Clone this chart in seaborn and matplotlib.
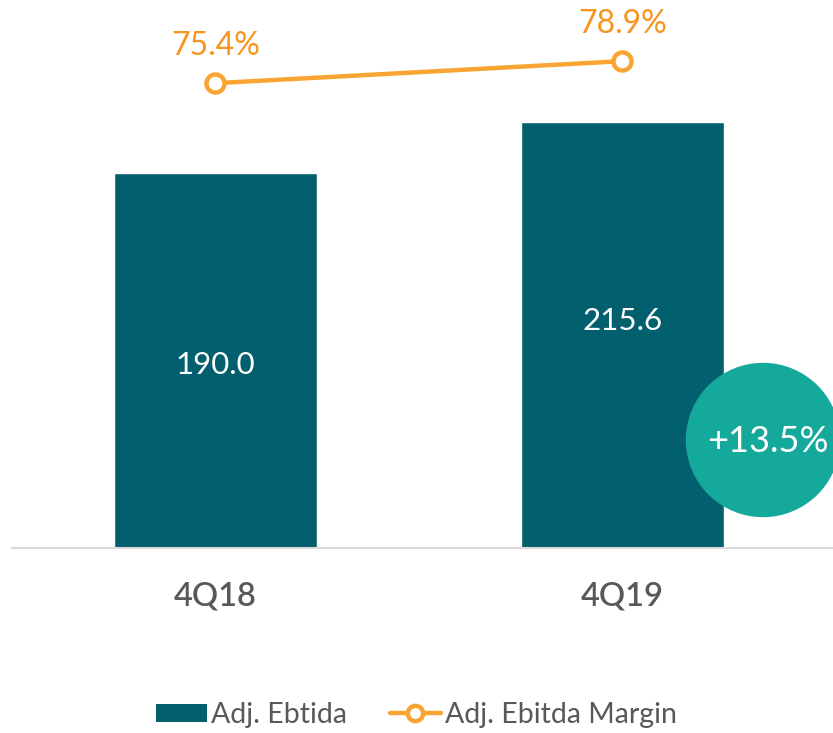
import matplotlib
matplotlib.use("Agg")
import matplotlib.pyplot as plt
from matplotlib.patches import Circle, Patch
from matplotlib.lines import Line2D
import pandas as pd
import seaborn as sns

# ─── Data ─────────────────────────────────────────────────────────────────────
quarters = ["4Q18", "4Q19"]
adj_ebitda = [190.0, 215.6]
adj_margin = [75.4, 78.9]
growth_label = "+13.5%"

BAR_COLOR = "#02606E"
LINE_COLOR = "#F9A533"
TEXT_ORANGE = "#F7941D"
BUBBLE_COLOR = "#14A99A"
GRAY = "#595959"

sns.set_theme(style="white")
plt.rcParams["font.family"] = ["Lato", "DejaVu Sans"]

df = pd.DataFrame({"quarter": quarters, "ebitda": adj_ebitda, "margin": adj_margin})

fig = plt.figure(figsize=(8.33, 7.33), dpi=100)
ax = fig.add_axes([12 / 833, 185 / 733, 1 - 12 / 833, 548 / 733])

sns.barplot(data=df, x="quarter", y="ebitda", color=BAR_COLOR, width=0.5,
            saturation=1, ax=ax)
# value labels sit near the middle of each bar (second one a bit higher)
for i, (v, dy) in enumerate(zip(adj_ebitda, (-3, 10))):
    ax.annotate(f"{v:.1f}", (i, v / 2), xytext=(0, dy), textcoords="offset points",
                ha="center", va="center", color="white", fontsize=22.5)

ax.set_ylim(0, 277.5)
ax.set_xlim(-0.5, 1.518)
ax.set_xlabel("")
ax.set_ylabel("")
ax.set_yticks([])
for s in ["top", "right", "left"]:
    ax.spines[s].set_visible(False)
ax.spines["bottom"].set_color("#D9D9D9")
ax.spines["bottom"].set_linewidth(1.5)
ax.tick_params(axis="x", length=0, pad=24, labelsize=23.5, labelcolor=GRAY)
for t in ax.get_xticklabels():
    t.set_fontweight("semibold")

# margin line on a secondary axis
ax2 = ax.twinx()
sns.lineplot(x=[0, 1], y=adj_margin, color=LINE_COLOR, linewidth=3.2,
             marker="o", markersize=13, markerfacecolor="white",
             markeredgecolor=LINE_COLOR, markeredgewidth=3.2, ax=ax2)
ax2.set_ylim(1.5, 1.5 + 548 / 6.29)
ax2.set_xlim(-0.5, 1.518)
ax2.set_yticks([])
ax2.axis("off")
for i, v in enumerate(adj_margin):
    ax2.annotate(f"{v:.1f}%", (i, v), xytext=(0, 27), textcoords="offset points",
                 ha="center", va="center", color=TEXT_ORANGE, fontsize=23)

# growth bubble
bubble = Circle((7.63, 2.93), 0.765, transform=fig.dpi_scale_trans,
                color=BUBBLE_COLOR, zorder=5)
fig.patches.append(bubble)
fig.text(7.675 / 8.33, 2.92 / 7.33, growth_label, ha="center", va="center",
         color="white", fontsize=26, zorder=6)

# legend
handles = [
    Patch(facecolor=BAR_COLOR, edgecolor="none"),
    Line2D([0], [0], color=LINE_COLOR, linewidth=3.2, marker="o", markersize=11,
           markerfacecolor="white", markeredgecolor=LINE_COLOR, markeredgewidth=3.2),
]
fig.legend(handles, ["Adj. Ebtida", "Adj. Ebitda Margin"], loc="center",
           bbox_to_anchor=(0.5, 18 / 733), ncol=2, frameon=False, fontsize=20.5,
           labelcolor=GRAY, handlelength=1.8, handleheight=0.62,
           handletextpad=0.15, columnspacing=1.5)

fig.savefig("out.png", dpi=100)
